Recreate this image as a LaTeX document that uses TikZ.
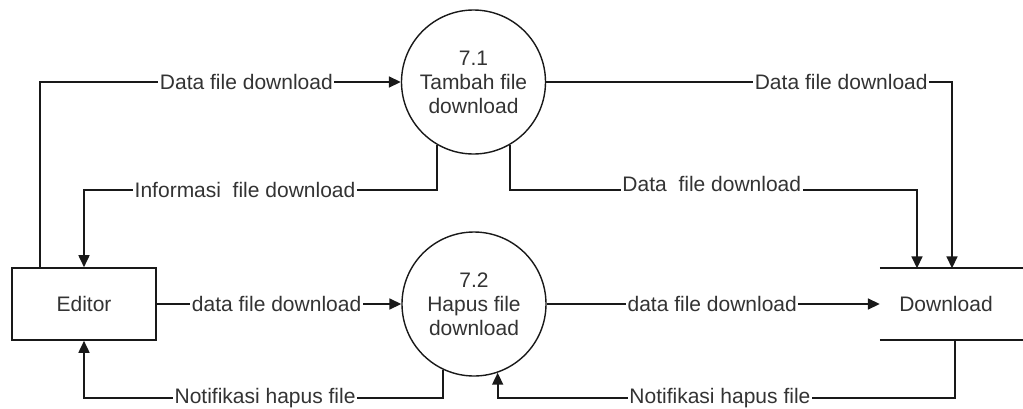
\documentclass[tikz,border=0pt]{standalone}
\usepackage{fontspec}
\setmainfont{Liberation Sans}
\usetikzlibrary{arrows.meta}
\begin{document}
\begin{tikzpicture}[x=1pt,y=-1pt,
  flow/.style={line width=1.7pt, draw=black!90, -{Triangle[length=12pt,width=11pt]}},
  lbl/.style={fill=white, inner sep=1.5pt, text=black!80, font=\fontsize{21}{24}\selectfont},
  proc/.style={circle, draw=black!90, line width=1.4pt, minimum size=144pt, inner sep=0pt,
    align=center, text=black!80, font=\fontsize{21}{24}\selectfont},
  ent/.style={rectangle, draw=black!90, line width=1.6pt, minimum width=144pt, minimum height=72pt,
    inner sep=0pt, text=black!80, font=\fontsize{21}{24}\selectfont},
  store/.style={rectangle, minimum width=143pt, minimum height=71pt, inner sep=0pt,
    text=black!80, font=\fontsize{21}{24}\selectfont},
  storeline/.style={line width=1.7pt, draw=black!90}]
\useasboundingbox[fill=white] (0,0) rectangle (1023,408);

\node[proc] (p71) at (473.5,82) {7.1\\Tambah file\\download};
\node[proc] (p72) at (474,304) {7.2\\Hapus file\\download};
\node[ent] (ed) at (84,304) {Editor};
\node[store] (ds) at (951.5,304) {};
\node[text=black!80, font=\fontsize{21}{24}\selectfont] (dst) at (946,304) {Download};
\draw[storeline] (ds.north west) -- (ds.north east);
\draw[storeline] (ds.south west) -- (ds.south east);

\coordinate (k2) at (84,190);
\coordinate (k3) at (917,190);
\coordinate (k4) at (952,82);
\coordinate (k7a) at (955,398);
\coordinate (k7b) at (p72.289 |- k7a);
\coordinate (k8) at (84,398);

\draw[flow] ([xshift=-44pt]ed.north) |- node[lbl,pos=0.786]{Data file download} (p71.west);
\draw[flow] (p71.240) |- node[lbl,pos=0.772]{Informasi\ \ file download} (k2) -- (ed.north);
\draw[flow] (p71.300) |- node[lbl,pos=0.748,yshift=6pt]{Data\ \ file download} (k3) -- (ds.north -| k3);
\draw[flow] (p71.east) -- node[lbl,pos=0.727]{Data file download} (k4) -- (ds.north -| k4);
\draw[flow] (ed.east) -- node[lbl,pos=0.49]{data file download} (p72.west);
\draw[flow] (p72.east) -- node[lbl,pos=0.497]{data file download} (ds.west);
\draw[flow] (ds.south -| k7a) -- (k7a) -- node[lbl,pos=0.514]{Notifikasi hapus file} (k7b) -- (p72.289);
\draw[flow] (p72.245) |- node[lbl,pos=0.748]{Notifikasi hapus file} (k8) -- (ed.south);
\end{tikzpicture}
\end{document}
